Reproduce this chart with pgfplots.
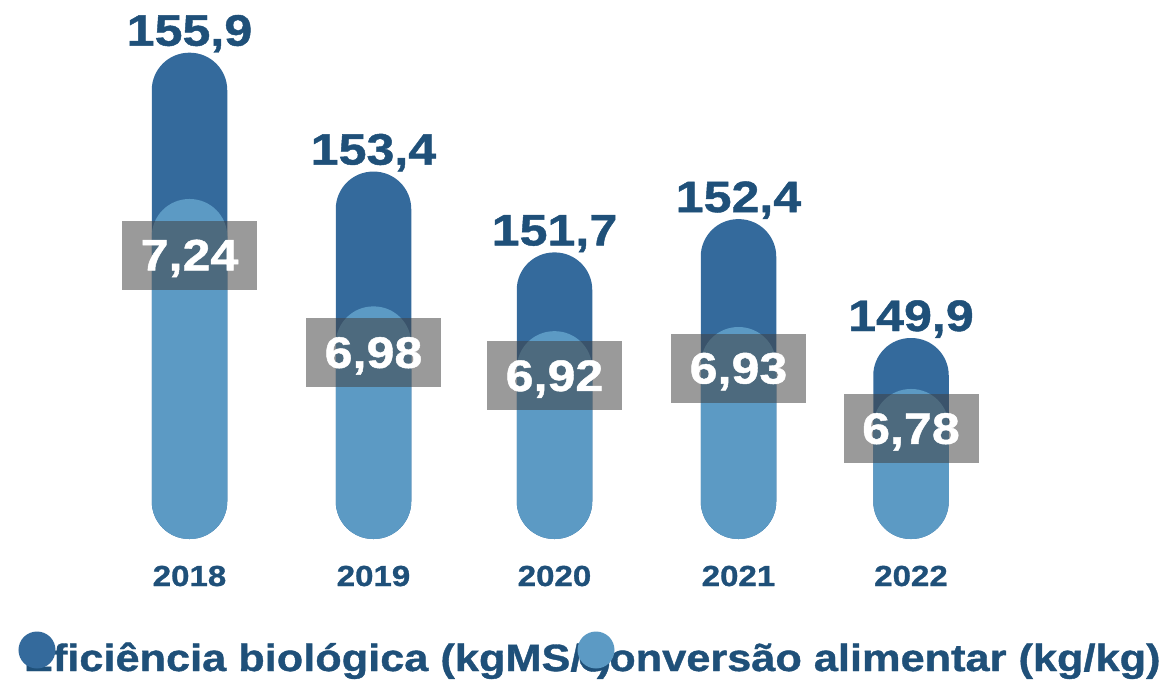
\documentclass[border=0pt]{standalone}
\usepackage{pgfplots}
\pgfplotsset{compat=1.18}
\usepackage{pgfplotstable}
\usepackage{fontspec}
\setmainfont{Liberation Sans}[FakeStretch=1.14, BoldFeatures={FakeBold=1}]
\definecolor{darkbar}{RGB}{52,106,156}
\definecolor{lightbar}{RGB}{92,154,196}
\definecolor{txt}{RGB}{31,80,121}

\pgfplotstableread{
x y label
189.5 155.9 155,9
373.5 153.4 153,4
554.5 151.7 151,7
738.5 152.4 152,4
911.0 149.9 149,9
}\eff
\pgfplotstableread{
x y ly label year
189.5 7.24 7.108 7,24 2018
373.5 6.98 6.872 6,98 2019
554.5 6.92 6.816 6,92 2020
738.5 6.93 6.834 6,93 2021
911.0 6.78 6.688 6,78 2022
}\conv

\pgfplotsset{base/.style={width=1169pt,height=539pt,scale only axis,xmin=0,xmax=1169,hide axis,clip=false,at={(0,0)},anchor=south west}}

\begin{document}
\begin{tikzpicture}
\useasboundingbox (0,-142pt) rectangle (1169pt,539pt);
\begin{axis}[base, ymin=145.673, ymax=157.008]
\addplot[ybar, bar width=75.5pt, fill=darkbar, draw=none, rounded corners=37.5pt,
  nodes near coords, point meta=explicit symbolic,
  every node near coord/.append style={anchor=base, yshift=7pt, inner sep=0pt, text=txt, font=\fontsize{44}{44}\selectfont\bfseries}]
  table[x=x,y=y,meta=label]{\eff};
\end{axis}
\begin{axis}[base, ymin=6.4168, ymax=7.7218,
  legend columns=2,
  legend style={draw=none, fill=none, at={(0,0)}, anchor=north west, xshift=18.5pt, yshift=-92.5pt,
    inner sep=0pt, outer sep=0pt, column sep=0pt, row sep=0pt,
    nodes={inner sep=0pt, outer sep=0pt, text=txt},
    font=\fontsize{38}{38}\selectfont\bfseries}]
\addplot[ybar, bar width=75.5pt, fill=lightbar, draw=none, rounded corners=37.5pt, forget plot]
  table[x=x,y=y]{\conv};
\addplot[draw=none, forget plot, nodes near coords, point meta=explicit symbolic,
  every node near coord/.append style={anchor=center, yshift=-1.5pt, inner sep=0pt, text depth=0pt, minimum width=135pt, minimum height=69pt,
    fill=black!75, fill opacity=0.53, text opacity=1, text=white, font=\fontsize{44}{44}\selectfont\bfseries}]
  table[x=x,y=ly,meta=label]{\conv};
\addplot[draw=none, forget plot, nodes near coords, point meta=explicit symbolic,
  every node near coord/.append style={anchor=base, yshift=-47pt, inner sep=0pt, text=txt, font=\fontsize{29}{29}\selectfont\bfseries}]
  table[x=x,y expr=6.4168,meta=year]{\conv};
\addlegendimage{empty legend}
\addlegendentry{\makebox[559pt][l]{\rlap{\hspace{5.5pt}Eficiência biológica (kgMS/t)}\tikz[baseline={(0,-21pt)}]\fill[darkbar] (0,0) circle (18.5pt);}}
\addlegendimage{empty legend}
\addlegendentry{\rlap{\hspace{0.5pt}Conversão alimentar (kg/kg)}\tikz[baseline={(0,-21pt)}]\fill[lightbar] (0,0) circle (18.5pt);}
\end{axis}
\end{tikzpicture}
\end{document}
